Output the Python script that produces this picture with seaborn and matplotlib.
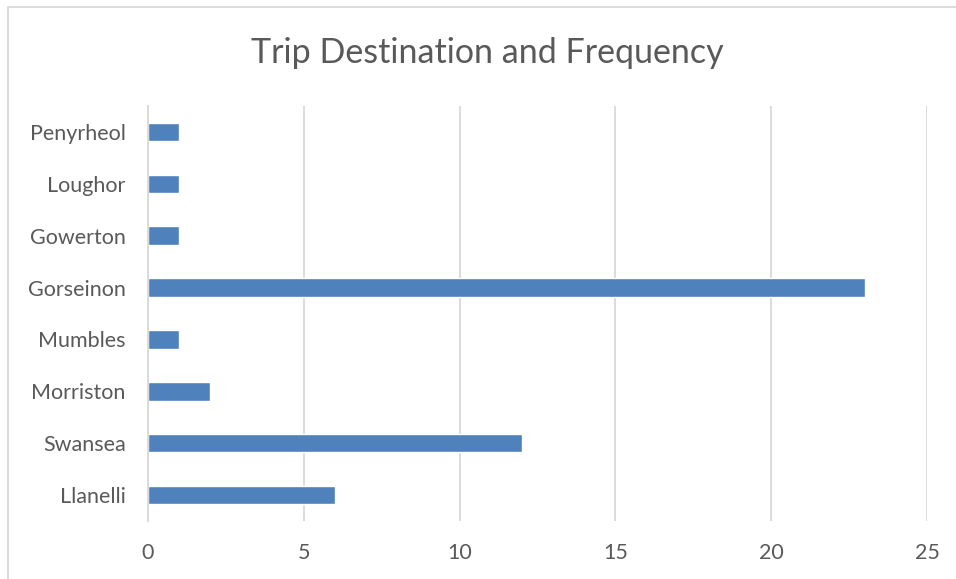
import matplotlib
matplotlib.use("Agg")
import matplotlib.pyplot as plt
import matplotlib.patches as mpatches
import seaborn as sns
import pandas as pd

destinations = ["Penyrheol", "Loughor", "Gowerton", "Gorseinon",
                "Mumbles", "Morriston", "Swansea", "Llanelli"]
trips = [1, 1, 1, 23, 1, 2, 12, 6]
x_ticks = [0, 5, 10, 15, 20, 25]

df = pd.DataFrame({"Destination": destinations, "Trips": trips})

sns.set_theme(style="white")
plt.rcParams["font.family"] = ["Lato", "DejaVu Sans"]

W, H = 956, 579
fig = plt.figure(figsize=(W / 100, H / 100), dpi=100)
ax = fig.add_axes([148 / W, 1 - 521 / H, (927 - 148) / W, (521 - 106) / H])

sns.barplot(data=df, x="Trips", y="Destination", orient="h",
            color="#4F81BD", saturation=1, width=0.355, ax=ax)

ax.set_xlim(0, 25)
ax.set_xticks(x_ticks)
ax.set_xlabel("")
ax.set_ylabel("")
ax.grid(axis="x", color="#D9D9D9", linewidth=1.3)
ax.set_axisbelow(True)
for side in ["top", "right", "bottom"]:
    ax.spines[side].set_visible(False)
ax.spines["left"].set_color("#D9D9D9")
ax.spines["left"].set_linewidth(1.3)
ax.tick_params(axis="y", length=0, pad=16, labelsize=15.5, labelcolor="#595959")
ax.tick_params(axis="x", length=0, pad=16, labelsize=15.5, labelcolor="#595959")

fig.text(487.5 / W, 1 - 53 / H, "Trip Destination and Frequency",
         ha="center", va="center", fontsize=24.5, color="#595959")

# chart-area border
fig.patches.append(mpatches.Rectangle((8 / W, -0.05), 1.1, 1 - 7 / H + 0.05,
                                      transform=fig.transFigure, fill=False,
                                      edgecolor="#D9D9D9", linewidth=1.3))

fig.savefig("out.png", dpi=100)
